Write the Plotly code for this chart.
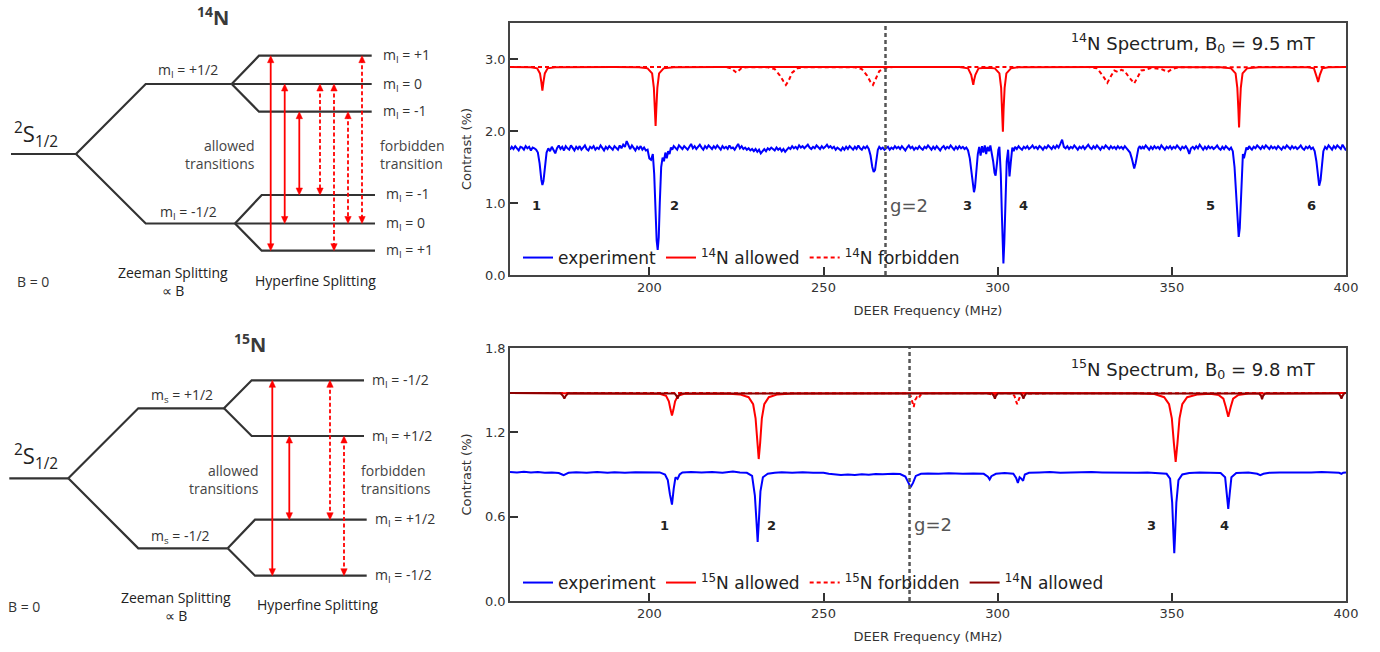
import plotly.graph_objects as go

W, H = 1380, 652
FONT_PLOT = "DejaVu Sans"
FONT_DIAG = "Open Sans"

# ---------------- DATA: 14N spectrum, B0 = 9.5 mT ----------------
exp14 = [
    (160.0, 1.74), (160.5, 1.78), (161.0, 1.75), (161.5, 1.79), (162.0, 1.76), (162.5, 1.73), (163.0, 1.78),
    (163.5, 1.77), (164.0, 1.74), (164.5, 1.79), (165.0, 1.76), (165.5, 1.78), (166.0, 1.73), (166.5, 1.77),
    (167.0, 1.76), (167.5, 1.74), (168.0, 1.70), (168.5, 1.55), (169.0, 1.32), (169.3, 1.25), (169.6, 1.30),
    (170.0, 1.52), (170.5, 1.70), (171.0, 1.76), (171.5, 1.72), (172.0, 1.78), (172.5, 1.74), (173.0, 1.69),
    (173.5, 1.76), (174.0, 1.80), (174.5, 1.75), (175.0, 1.78), (175.5, 1.73), (176.0, 1.79), (176.5, 1.76),
    (177.0, 1.74), (177.5, 1.80), (178.0, 1.76), (178.5, 1.73), (179.0, 1.78), (179.5, 1.75), (180.0, 1.79),
    (180.5, 1.74), (181.0, 1.77), (181.5, 1.80), (182.0, 1.75), (182.5, 1.73), (183.0, 1.78), (183.5, 1.76),
    (184.0, 1.79), (184.5, 1.74), (185.0, 1.77), (185.5, 1.75), (186.0, 1.80), (186.5, 1.76), (187.0, 1.73),
    (187.5, 1.78), (188.0, 1.75), (188.5, 1.79), (189.0, 1.76), (189.5, 1.74), (190.0, 1.79), (190.5, 1.77),
    (191.0, 1.74), (191.5, 1.80), (192.0, 1.76), (192.5, 1.81), (193.0, 1.78), (193.5, 1.86), (194.0, 1.79),
    (194.5, 1.75), (195.0, 1.80), (195.5, 1.76), (196.0, 1.73), (196.5, 1.78), (197.0, 1.75), (197.5, 1.79),
    (198.0, 1.74), (198.5, 1.77), (199.0, 1.73), (199.5, 1.74), (200.0, 1.62), (200.5, 1.60), (201.0, 1.68),
    (201.4, 1.40), (201.8, 0.85), (202.1, 0.48), (202.4, 0.35), (202.7, 0.52), (203.0, 1.00), (203.4, 1.50),
    (203.8, 1.63), (204.2, 1.58), (204.6, 1.70), (205.0, 1.62), (205.4, 1.72), (205.8, 1.68), (206.2, 1.77),
    (206.6, 1.74), (207.0, 1.79), (207.5, 1.76), (208.0, 1.74), (208.5, 1.80), (209.0, 1.77), (209.5, 1.75),
    (210.0, 1.79), (210.5, 1.76), (211.0, 1.74), (211.5, 1.78), (212.0, 1.82), (212.5, 1.76), (213.0, 1.79),
    (213.5, 1.75), (214.0, 1.78), (214.5, 1.81), (215.0, 1.77), (215.5, 1.74), (216.0, 1.79), (216.5, 1.76),
    (217.0, 1.80), (217.5, 1.77), (218.0, 1.75), (218.5, 1.79), (219.0, 1.76), (219.5, 1.80), (220.0, 1.77),
    (220.5, 1.74), (221.0, 1.79), (221.5, 1.76), (222.0, 1.78), (222.5, 1.75), (223.0, 1.80), (223.5, 1.76),
    (224.0, 1.77), (224.5, 1.74), (225.0, 1.78), (225.5, 1.82), (226.0, 1.76), (226.5, 1.79), (227.0, 1.75),
    (227.5, 1.77), (228.0, 1.74), (228.5, 1.76), (229.0, 1.73), (229.5, 1.75), (230.0, 1.72), (230.5, 1.75),
    (231.0, 1.71), (231.5, 1.74), (232.0, 1.69), (232.5, 1.73), (233.0, 1.75), (233.5, 1.72), (234.0, 1.76),
    (234.5, 1.74), (235.0, 1.77), (235.5, 1.75), (236.0, 1.73), (236.5, 1.77), (237.0, 1.74), (237.5, 1.76),
    (238.0, 1.72), (238.5, 1.75), (239.0, 1.71), (239.5, 1.74), (240.0, 1.77), (240.5, 1.75), (241.0, 1.79),
    (241.5, 1.76), (242.0, 1.78), (242.5, 1.75), (243.0, 1.80), (243.5, 1.77), (244.0, 1.79), (244.5, 1.76),
    (245.0, 1.78), (245.5, 1.81), (246.0, 1.77), (246.5, 1.75), (247.0, 1.78), (247.5, 1.76), (248.0, 1.80),
    (248.5, 1.77), (249.0, 1.75), (249.5, 1.79), (250.0, 1.76), (250.5, 1.78), (251.0, 1.81), (251.5, 1.77),
    (252.0, 1.79), (252.5, 1.76), (253.0, 1.78), (253.5, 1.74), (254.0, 1.77), (254.5, 1.75), (255.0, 1.73),
    (255.5, 1.77), (256.0, 1.74), (256.5, 1.78), (257.0, 1.75), (257.5, 1.79), (258.0, 1.76), (258.5, 1.74),
    (259.0, 1.78), (259.5, 1.75), (260.0, 1.80), (260.5, 1.76), (261.0, 1.74), (261.5, 1.78), (262.0, 1.76),
    (262.5, 1.79), (263.0, 1.75), (263.5, 1.66), (264.0, 1.50), (264.4, 1.43), (264.8, 1.46), (265.2, 1.60),
    (265.6, 1.74), (266.0, 1.78), (266.5, 1.75), (267.0, 1.77), (267.5, 1.74), (268.0, 1.76), (268.5, 1.78),
    (269.0, 1.74), (269.5, 1.77), (270.0, 1.75), (270.5, 1.79), (271.0, 1.76), (271.5, 1.78), (272.0, 1.75),
    (272.5, 1.79), (273.0, 1.76), (273.5, 1.73), (274.0, 1.77), (274.5, 1.80), (275.0, 1.76), (275.5, 1.78),
    (276.0, 1.74), (276.5, 1.77), (277.0, 1.75), (277.5, 1.79), (278.0, 1.76), (278.5, 1.74), (279.0, 1.78),
    (279.5, 1.76), (280.0, 1.80), (280.5, 1.77), (281.0, 1.74), (281.5, 1.78), (282.0, 1.75), (282.5, 1.79),
    (283.0, 1.76), (283.5, 1.73), (284.0, 1.77), (284.5, 1.79), (285.0, 1.75), (285.5, 1.78), (286.0, 1.76),
    (286.5, 1.80), (287.0, 1.77), (287.5, 1.74), (288.0, 1.78), (288.5, 1.75), (289.0, 1.79), (289.5, 1.76),
    (290.0, 1.78), (290.5, 1.75), (291.0, 1.77), (291.5, 1.73), (292.0, 1.62), (292.5, 1.42), (292.9, 1.22),
    (293.2, 1.15), (293.5, 1.22), (293.9, 1.48), (294.3, 1.68), (294.7, 1.78), (295.1, 1.66), (295.5, 1.79),
    (295.9, 1.70), (296.3, 1.80), (296.7, 1.68), (297.1, 1.78), (297.5, 1.72), (297.9, 1.80), (298.3, 1.70),
    (298.7, 1.58), (299.1, 1.42), (299.4, 1.38), (299.8, 1.55), (300.2, 1.74), (300.5, 1.78), (300.9, 1.40),
    (301.2, 0.85), (301.45, 0.35), (301.65, 0.16), (301.9, 0.45), (302.2, 1.05), (302.6, 1.58), (303.0, 1.74),
    (303.4, 1.37), (303.8, 1.58), (304.2, 1.77), (304.6, 1.72), (305.0, 1.78), (305.5, 1.75), (306.0, 1.79),
    (306.5, 1.76), (307.0, 1.74), (307.5, 1.78), (308.0, 1.76), (308.5, 1.79), (309.0, 1.75), (309.5, 1.77),
    (310.0, 1.80), (310.5, 1.76), (311.0, 1.78), (311.5, 1.75), (312.0, 1.79), (312.5, 1.77), (313.0, 1.74),
    (313.5, 1.78), (314.0, 1.76), (314.5, 1.80), (315.0, 1.77), (315.5, 1.75), (316.0, 1.79), (316.5, 1.76),
    (317.0, 1.80), (317.5, 1.77), (318.0, 1.82), (318.5, 1.88), (319.0, 1.78), (319.5, 1.76), (320.0, 1.79),
    (320.5, 1.75), (321.0, 1.78), (321.5, 1.76), (322.0, 1.80), (322.5, 1.77), (323.0, 1.74), (323.5, 1.78),
    (324.0, 1.76), (324.5, 1.79), (325.0, 1.75), (325.5, 1.78), (326.0, 1.81), (326.5, 1.77), (327.0, 1.75),
    (327.5, 1.79), (328.0, 1.76), (328.5, 1.80), (329.0, 1.77), (329.5, 1.74), (330.0, 1.78), (330.5, 1.76),
    (331.0, 1.80), (331.5, 1.77), (332.0, 1.75), (332.5, 1.79), (333.0, 1.76), (333.5, 1.78), (334.0, 1.75),
    (334.5, 1.79), (335.0, 1.76), (335.5, 1.78), (336.0, 1.75), (336.5, 1.79), (337.0, 1.76), (337.5, 1.74),
    (338.0, 1.70), (338.5, 1.62), (338.9, 1.52), (339.2, 1.48), (339.6, 1.55), (340.0, 1.68), (340.4, 1.76),
    (340.8, 1.79), (341.2, 1.75), (341.6, 1.78), (342.0, 1.76), (342.5, 1.80), (343.0, 1.77), (343.5, 1.74),
    (344.0, 1.78), (344.5, 1.75), (345.0, 1.79), (345.5, 1.76), (346.0, 1.78), (346.5, 1.75), (347.0, 1.80),
    (347.5, 1.77), (348.0, 1.74), (348.5, 1.78), (349.0, 1.76), (349.5, 1.79), (350.0, 1.75), (350.5, 1.78),
    (351.0, 1.76), (351.5, 1.80), (352.0, 1.77), (352.5, 1.74), (353.0, 1.78), (353.5, 1.76), (354.0, 1.79),
    (354.5, 1.75), (355.0, 1.68), (355.5, 1.76), (356.0, 1.78), (356.5, 1.75), (357.0, 1.79), (357.5, 1.76),
    (358.0, 1.81), (358.5, 1.77), (359.0, 1.74), (359.5, 1.78), (360.0, 1.75), (360.5, 1.79), (361.0, 1.76),
    (361.5, 1.78), (362.0, 1.75), (362.5, 1.77), (363.0, 1.80), (363.5, 1.76), (364.0, 1.74), (364.5, 1.78),
    (365.0, 1.75), (365.5, 1.79), (366.0, 1.76), (366.5, 1.74), (367.0, 1.77), (367.5, 1.72), (368.0, 1.50),
    (368.4, 1.15), (368.8, 0.78), (369.2, 0.53), (369.5, 0.65), (369.8, 1.05), (370.1, 1.45), (370.4, 1.68),
    (370.7, 1.62), (371.0, 1.70), (371.4, 1.77), (371.8, 1.74), (372.2, 1.79), (372.6, 1.76), (373.0, 1.74),
    (373.5, 1.78), (374.0, 1.76), (374.5, 1.80), (375.0, 1.77), (375.5, 1.75), (376.0, 1.79), (376.5, 1.76),
    (377.0, 1.80), (377.5, 1.78), (378.0, 1.75), (378.5, 1.79), (379.0, 1.76), (379.5, 1.78), (380.0, 1.75),
    (380.5, 1.79), (381.0, 1.77), (381.5, 1.74), (382.0, 1.78), (382.5, 1.76), (383.0, 1.80), (383.5, 1.77),
    (384.0, 1.75), (384.5, 1.79), (385.0, 1.76), (385.5, 1.78), (386.0, 1.75), (386.5, 1.77), (387.0, 1.80),
    (387.5, 1.76), (388.0, 1.74), (388.5, 1.78), (389.0, 1.76), (389.5, 1.79), (390.0, 1.75), (390.5, 1.77),
    (391.0, 1.72), (391.5, 1.58), (391.9, 1.38), (392.3, 1.24), (392.7, 1.32), (393.1, 1.55), (393.5, 1.72),
    (394.0, 1.78), (394.5, 1.75), (395.0, 1.80), (395.5, 1.77), (396.0, 1.74), (396.5, 1.79), (397.0, 1.76),
    (397.5, 1.80), (398.0, 1.78), (398.5, 1.75), (399.0, 1.81), (399.5, 1.77), (400.0, 1.73),
]

allowed14 = [
    (160, 2.89), (166, 2.885), (167.8, 2.87), (168.6, 2.80), (169.0, 2.68), (169.3, 2.56), (169.6, 2.68),
    (170.0, 2.80), (170.8, 2.87), (173, 2.885), (190, 2.89), (197, 2.885), (199.5, 2.87), (200.8, 2.80),
    (201.3, 2.60), (201.6, 2.30), (201.8, 2.07), (202.0, 2.30), (202.3, 2.60), (202.8, 2.80), (204.1, 2.87),
    (207, 2.885), (220, 2.89), (289, 2.888), (291.5, 2.87), (292.4, 2.78), (292.8, 2.70), (293.0, 2.64),
    (293.2, 2.70), (293.6, 2.78), (294.5, 2.87), (297, 2.88), (299.2, 2.87), (300.5, 2.80), (301.0, 2.60),
    (301.3, 2.30), (301.5, 1.99), (301.7, 2.30), (302.0, 2.60), (302.5, 2.80), (303.8, 2.87), (306, 2.885),
    (330, 2.89), (364, 2.885), (367, 2.87), (368.3, 2.80), (368.8, 2.60), (369.1, 2.30), (369.3, 2.05),
    (369.5, 2.30), (369.8, 2.60), (370.3, 2.80), (371.6, 2.87), (375, 2.885), (389, 2.885), (390.8, 2.87),
    (391.5, 2.78), (391.8, 2.72), (392.0, 2.68), (392.2, 2.72), (392.5, 2.78), (393.2, 2.87), (395, 2.885),
    (400, 2.89),
]

forbidden14 = [
    (160, 2.89), (222, 2.89), (223.5, 2.87), (224.5, 2.83), (225.0, 2.81), (225.5, 2.83), (226.5, 2.875),
    (228, 2.885), (234, 2.885), (236, 2.86), (237.5, 2.77), (238.5, 2.69), (239.2, 2.64), (240.0, 2.70),
    (241.0, 2.81), (242.5, 2.87), (244, 2.885), (259, 2.885), (261, 2.86), (262.5, 2.77), (263.5, 2.68),
    (264.2, 2.64), (265.0, 2.72), (266.0, 2.83), (267.5, 2.875), (270, 2.89), (326, 2.89), (328.5, 2.87),
    (330.0, 2.78), (331.5, 2.67), (332.5, 2.76), (333.5, 2.84), (334.5, 2.82), (335.5, 2.85), (336.5, 2.83),
    (337.5, 2.76), (339.2, 2.66), (340.2, 2.76), (341.2, 2.84), (342.5, 2.85), (344, 2.875), (347, 2.86),
    (348.8, 2.82), (350, 2.86), (352, 2.885), (400, 2.89),
]

# ---------------- DATA: 15N spectrum, B0 = 9.8 mT ----------------
exp15 = [
    (160, 0.918), (162, 0.915), (164, 0.920), (166, 0.914), (168, 0.917), (170, 0.912), (172, 0.915),
    (174, 0.910), (174.8, 0.902), (175.4, 0.895), (176.0, 0.903), (176.8, 0.912), (179, 0.916),
    (182, 0.913), (185, 0.917), (188, 0.912), (190, 0.916), (193, 0.913), (196, 0.916), (200, 0.914),
    (203, 0.915), (204.5, 0.900), (205.3, 0.860), (205.9, 0.760), (206.5, 0.686), (207.0, 0.800),
    (207.5, 0.880), (208.1, 0.868), (208.7, 0.900), (209.5, 0.915), (212, 0.918), (215, 0.914),
    (218, 0.917), (221, 0.913), (224, 0.921), (226, 0.914), (228, 0.912), (229.5, 0.890), (230.3, 0.750),
    (230.8, 0.550), (231.1, 0.420), (231.4, 0.550), (231.9, 0.780), (232.6, 0.880), (234, 0.905),
    (236, 0.913), (238, 0.916), (241, 0.913), (244, 0.916), (247, 0.912), (250, 0.913), (251.5, 0.905),
    (253, 0.900), (255, 0.897), (257, 0.900), (259, 0.897), (261, 0.902), (263, 0.899), (265, 0.904),
    (267, 0.901), (270, 0.905), (272, 0.903), (273.5, 0.885), (274.3, 0.840), (275.0, 0.810),
    (275.7, 0.840), (276.5, 0.890), (278, 0.905), (280, 0.908), (283, 0.905), (286, 0.909), (290, 0.905),
    (293, 0.908), (296, 0.905), (297.2, 0.885), (297.7, 0.865), (298.2, 0.888), (299.5, 0.905),
    (302, 0.910), (304.5, 0.905), (305.3, 0.875), (305.8, 0.840), (306.3, 0.880), (306.8, 0.870),
    (307.3, 0.855), (307.8, 0.900), (309, 0.912), (312, 0.915), (315, 0.918), (318, 0.913), (321, 0.916),
    (324, 0.914), (327, 0.917), (330, 0.915), (333, 0.913), (336, 0.916), (340, 0.913), (343, 0.915),
    (346, 0.912), (348.5, 0.905), (349.5, 0.870), (350.1, 0.700), (350.5, 0.450), (350.7, 0.340),
    (350.9, 0.450), (351.3, 0.700), (351.9, 0.860), (353, 0.900), (355, 0.910), (358, 0.914),
    (361, 0.912), (364, 0.910), (365.3, 0.880), (365.8, 0.760), (366.2, 0.655), (366.6, 0.760),
    (367.1, 0.880), (368.5, 0.910), (372, 0.915), (374.5, 0.905), (375.4, 0.895), (376.3, 0.905),
    (378, 0.912), (381, 0.915), (384, 0.913), (387, 0.916), (390, 0.914), (393, 0.917), (396, 0.915),
    (398, 0.912), (398.7, 0.905), (399.2, 0.913), (400, 0.915),
]

allowed15 = [
    (160, 1.48), (200, 1.478), (203, 1.475), (204.8, 1.46), (205.6, 1.42), (206.1, 1.36), (206.5, 1.32),
    (206.9, 1.36), (207.4, 1.42), (208.2, 1.46), (210, 1.475), (222, 1.477), (226, 1.47), (228.5, 1.45),
    (229.8, 1.40), (230.5, 1.30), (231.0, 1.12), (231.4, 1.01), (231.8, 1.12), (232.3, 1.30), (233.0, 1.40),
    (234.3, 1.45), (236.8, 1.47), (241, 1.477), (300, 1.48), (340, 1.478), (345, 1.472), (347.8, 1.45),
    (349.2, 1.40), (350.0, 1.30), (350.6, 1.12), (351.1, 0.99), (351.6, 1.12), (352.2, 1.30), (353.0, 1.40),
    (354.4, 1.45), (357.5, 1.47), (361, 1.474), (363.5, 1.465), (364.8, 1.44), (365.5, 1.38), (366.2, 1.31),
    (366.9, 1.38), (367.6, 1.44), (369, 1.465), (372, 1.476), (400, 1.48),
]

forbidden15 = [
    (160, 1.48), (274, 1.478), (275.0, 1.46), (275.5, 1.42), (275.9, 1.38), (276.3, 1.43), (276.8, 1.45),
    (277.3, 1.44), (277.8, 1.465), (279, 1.478), (297, 1.478), (298.2, 1.47), (298.6, 1.46), (299.0, 1.47),
    (300, 1.478), (304, 1.477), (304.8, 1.46), (305.3, 1.42), (305.6, 1.40), (306.0, 1.43), (306.6, 1.465),
    (307.5, 1.477), (400, 1.48),
]

allowed14_b = [
    (160, 1.48), (174.5, 1.478), (175.2, 1.46), (175.6, 1.44), (176.0, 1.46), (176.7, 1.478),
    (207.3, 1.476), (207.8, 1.46), (208.1, 1.44), (208.4, 1.46), (209.0, 1.476), (298.3, 1.477),
    (298.9, 1.46), (299.2, 1.44), (299.5, 1.46), (300.1, 1.477), (306.6, 1.477), (307.1, 1.46),
    (307.4, 1.44), (307.7, 1.46), (308.2, 1.477), (375.0, 1.477), (375.6, 1.46), (375.9, 1.435),
    (376.2, 1.46), (376.8, 1.477), (397.9, 1.477), (398.4, 1.46), (398.7, 1.44), (399.0, 1.46),
    (399.5, 1.477), (400, 1.48),
]

# annotation values
g2_top, g2_bot = 267.8, 274.7
peak_labels_top = ["1", "2", "3", "4", "5", "6"]
peak_x_top = [167.5, 207.2, 291.3, 307.3, 361.2, 390.2]
peak_y_top = 0.97
peak_labels_bot = ["1", "2", "3", "4"]
peak_x_bot = [204.3, 235.2, 344.3, 365.2]
peak_y_bot = 0.535
yticks_top = [0.0, 1.0, 2.0, 3.0]
yticks_bot = [0.0, 0.6, 1.2, 1.8]
xticks = [200, 250, 300, 350, 400]


def xs(d):
    return [p[0] for p in d]


def ys(d):
    return [p[1] for p in d]


def PX(x):
    return x / W


def PY(y):
    return 1 - y / H


BLUE, RED, DRED = "#0000FF", "#FF0000", "#8B0000"

fig = go.Figure()

# top traces
fig.add_trace(go.Scatter(x=xs(exp14), y=ys(exp14), mode="lines", name="experiment",
                         line=dict(color=BLUE, width=2), xaxis="x", yaxis="y", legend="legend"))
fig.add_trace(go.Scatter(x=xs(allowed14), y=ys(allowed14), mode="lines", name="<sup>14</sup>N allowed",
                         line=dict(color=RED, width=2), xaxis="x", yaxis="y", legend="legend"))
fig.add_trace(go.Scatter(x=xs(forbidden14), y=ys(forbidden14), mode="lines", name="<sup>14</sup>N forbidden",
                         line=dict(color=RED, width=2, dash="4px,3px"), xaxis="x", yaxis="y", legend="legend"))
# bottom traces
fig.add_trace(go.Scatter(x=xs(exp15), y=ys(exp15), mode="lines", name="experiment",
                         line=dict(color=BLUE, width=2), xaxis="x2", yaxis="y2", legend="legend2"))
fig.add_trace(go.Scatter(x=xs(allowed15), y=ys(allowed15), mode="lines", name="<sup>15</sup>N allowed",
                         line=dict(color=RED, width=2), xaxis="x2", yaxis="y2", legend="legend2"))
fig.add_trace(go.Scatter(x=xs(forbidden15), y=ys(forbidden15), mode="lines", name="<sup>15</sup>N forbidden",
                         line=dict(color=RED, width=2, dash="4px,3px"), xaxis="x2", yaxis="y2", legend="legend2"))
fig.add_trace(go.Scatter(x=xs(allowed14_b), y=ys(allowed14_b), mode="lines", name="<sup>14</sup>N allowed",
                         line=dict(color=DRED, width=2), xaxis="x2", yaxis="y2", legend="legend2"))

axis_common = dict(showline=True, linecolor="#444", linewidth=1.5, mirror=True, ticks="inside",
                   ticklen=8, tickwidth=1.5, tickcolor="#333", showgrid=False, zeroline=False,
                   automargin=False, tickfont=dict(family=FONT_PLOT, size=13, color="#333"))
X_DOM = [PX(510), PX(1346)]
TITLE_FONT = dict(family=FONT_PLOT, size=13, color="#333")

fig.update_layout(
    width=W, height=H, margin=dict(l=0, r=0, t=0, b=0, autoexpand=False),
    paper_bgcolor="white", plot_bgcolor="white",
    xaxis=dict(domain=X_DOM, anchor="y", range=[160, 400], tickvals=xticks,
               title=dict(text="DEER Frequency (MHz)", font=TITLE_FONT, standoff=12), **axis_common),
    yaxis=dict(domain=[PY(275), PY(23)], anchor="x", range=[0, 3.5], tickvals=yticks_top, tickformat=".1f",
               title=dict(text="Contrast (%)", font=TITLE_FONT, standoff=10), **axis_common),
    xaxis2=dict(domain=X_DOM, anchor="y2", range=[160, 400], tickvals=xticks,
                title=dict(text="DEER Frequency (MHz)", font=TITLE_FONT, standoff=12), **axis_common),
    yaxis2=dict(domain=[PY(601), PY(348)], anchor="x2", range=[0, 1.8], tickvals=yticks_bot, tickformat=".1f",
                title=dict(text="Contrast (%)", font=TITLE_FONT, standoff=10), **axis_common),
    legend=dict(orientation="h", x=PX(518), xanchor="left", y=PY(258), yanchor="middle",
                font=dict(family=FONT_PLOT, size=17, color="#222"), bgcolor="rgba(0,0,0,0)", itemwidth=30),
    legend2=dict(orientation="h", x=PX(518), xanchor="left", y=PY(583), yanchor="middle",
                 font=dict(family=FONT_PLOT, size=17, color="#222"), bgcolor="rgba(0,0,0,0)", itemwidth=30),
    showlegend=True,
)

shapes = []
annots = []

# g = 2 lines
for xr, yr, gx in (("x", "y", g2_top), ("x2", "y2", g2_bot)):
    shapes.append(dict(type="line", xref=xr, yref=yr + " domain", x0=gx, x1=gx, y0=0, y1=1,
                       line=dict(color="#555", width=2.5, dash="4px,3px"), layer="above"))
annots.append(dict(x=g2_top, y=0.97, xref="x", yref="y", text="g=2", showarrow=False, xanchor="left",
                   xshift=2, font=dict(family=FONT_PLOT, size=18, color="#555")))
annots.append(dict(x=g2_bot, y=0.543, xref="x2", yref="y2", text="g=2", showarrow=False, xanchor="left",
                   xshift=2, font=dict(family=FONT_PLOT, size=18, color="#555")))

# peak numbers
for t, x in zip(peak_labels_top, peak_x_top):
    annots.append(dict(x=x, y=peak_y_top, xref="x", yref="y", text="<b>%s</b>" % t, showarrow=False,
                       font=dict(family=FONT_PLOT, size=13, color="#222")))
for t, x in zip(peak_labels_bot, peak_x_bot):
    annots.append(dict(x=x, y=peak_y_bot, xref="x2", yref="y2", text="<b>%s</b>" % t, showarrow=False,
                       font=dict(family=FONT_PLOT, size=13, color="#222")))

# spectrum titles
annots.append(dict(x=PX(1318), y=PY(43), xref="paper", yref="paper", xanchor="right", yanchor="middle",
                   text="<sup>14</sup>N Spectrum, B<sub>0</sub> = 9.5 mT", showarrow=False,
                   font=dict(family=FONT_PLOT, size=18, color="#222")))
annots.append(dict(x=PX(1318), y=PY(369), xref="paper", yref="paper", xanchor="right", yanchor="middle",
                   text="<sup>15</sup>N Spectrum, B<sub>0</sub> = 9.8 mT", showarrow=False,
                   font=dict(family=FONT_PLOT, size=18, color="#222")))

# ---------------- energy level diagrams ----------------
LINE_C = "#333333"


def polyline(pts, color=LINE_C, width=2.2):
    d = "M " + " L ".join("%f,%f" % (PX(x), PY(y)) for x, y in pts)
    shapes.append(dict(type="path", xref="paper", yref="paper", path=d,
                       line=dict(color=color, width=width), fillcolor="rgba(0,0,0,0)"))


def darrow(x, ytop, ybot, dashed):
    hl, hw = 7, 3.2
    shapes.append(dict(type="line", xref="paper", yref="paper", x0=PX(x), x1=PX(x), y0=PY(ytop + 3), y1=PY(ybot - 3),
                       line=dict(color=RED, width=1.8, dash="4px,2.5px" if dashed else "solid")))
    for tip, sgn in ((ytop, 1), (ybot, -1)):
        d = "M %f,%f L %f,%f L %f,%f Z" % (PX(x), PY(tip), PX(x - hw), PY(tip + sgn * hl),
                                           PX(x + hw), PY(tip + sgn * hl))
        shapes.append(dict(type="path", xref="paper", yref="paper", path=d, fillcolor=RED,
                           line=dict(color=RED, width=0.5)))


def text(x, y, s, size=14, anchor="center", color="#333", bold=False, align=None):
    annots.append(dict(x=PX(x), y=PY(y), xref="paper", yref="paper", text=("<b>%s</b>" % s) if bold else s,
                       showarrow=False, xanchor=anchor, yanchor="middle", align=align or anchor,
                       font=dict(family=FONT_DIAG, size=size, color=color)))


top_lines = [
    [(11, 154), (76, 154)],
    [(76, 154), (145.7, 84), (231.7, 84)],
    [(76, 154), (145.7, 223.5), (235, 223.5)],
    [(231.7, 84), (259, 55.7), (371.7, 55.7)],
    [(231.7, 84), (371.7, 84)],
    [(231.7, 84), (259, 111.7), (371.7, 111.7)],
    [(235, 223.5), (261.7, 195), (375, 195)],
    [(235, 223.5), (375, 223.5)],
    [(235, 223.5), (261.7, 250.7), (375, 250.7)],
]
for pl in top_lines:
    polyline(pl)
for x, a, b in [(270.7, 55.7, 250.7), (284.7, 84, 223.5), (299.3, 111.7, 195)]:
    darrow(x, a, b, False)
for x, a, b in [(320, 84, 195), (334, 84, 250.7), (348, 111.7, 223.5), (362, 55.7, 223.5)]:
    darrow(x, a, b, True)

text(213, 17, "<sup>14</sup>N", size=20, bold=True, color="#3a3a3a")
text(12, 134, "<sup>2</sup>S<sub>1/2</sub>", size=22, anchor="left", color="#222")
text(188, 70, "m<sub>I</sub> = +1/2")
text(188, 212, "m<sub>I</sub> = -1/2")
for y, s in [(55.7, "+1"), (84, "0"), (111.7, "-1")]:
    text(381, y, "m<sub>I</sub> = " + s, anchor="left")
for y, s in [(195, "-1"), (223.5, "0"), (250.7, "+1")]:
    text(384, y, "m<sub>I</sub> = " + s, anchor="left")
text(257, 155, "allowed<br>transitions", size=14, anchor="right", color="#444")
text(378, 155, "forbidden<br>transition", size=14, anchor="left", color="#444")
text(33, 282, "B = 0")
text(173, 282, "Zeeman Splitting<br>∝ B", size=14, color="#222")
text(315, 280, "Hyperfine Splitting", size=14, color="#222")

bot_lines = [
    [(9.3, 478.3), (68.3, 478.3)],
    [(68.3, 478.3), (138.3, 408.3), (224, 408.3)],
    [(68.3, 478.3), (138.3, 548.3), (227.7, 548.3)],
    [(224, 408.3), (251.7, 380.3), (364, 380.3)],
    [(224, 408.3), (251.7, 436), (364, 436)],
    [(227.7, 548.3), (255, 519.7), (366.7, 519.7)],
    [(227.7, 548.3), (255, 575.7), (366.7, 575.7)],
]
for pl in bot_lines:
    polyline(pl)
for x, a, b in [(272.3, 380.3, 575.7), (289.3, 436, 519.7)]:
    darrow(x, a, b, False)
for x, a, b in [(330, 380.3, 519.7), (344, 436, 575.7)]:
    darrow(x, a, b, True)

text(250, 343, "<sup>15</sup>N", size=20, bold=True, color="#3a3a3a")
text(12, 457, "<sup>2</sup>S<sub>1/2</sub>", size=22, anchor="left", color="#222")
text(182, 395, "m<sub>s</sub> = +1/2")
text(180, 536, "m<sub>s</sub> = -1/2")
text(370, 380.3, "m<sub>I</sub> = -1/2", anchor="left")
text(370, 436, "m<sub>I</sub> = +1/2", anchor="left")
text(372.7, 519.7, "m<sub>I</sub> = +1/2", anchor="left")
text(372.7, 575.7, "m<sub>I</sub> = -1/2", anchor="left")
text(261, 479, "allowed<br>transitions", size=14, anchor="right", color="#444")
text(359, 479, "forbidden<br>transitions", size=14, anchor="left", color="#444")
text(24, 606, "B = 0")
text(176, 606, "Zeeman Splitting<br>∝ B", size=14, color="#222")
text(317, 604, "Hyperfine Splitting", size=14, color="#222")

fig.update_layout(shapes=shapes, annotations=annots)

fig.write_html("out.html", config={"displayModeBar": False},
               post_script="document.body.style.margin='0';document.body.style.overflow='hidden';")
